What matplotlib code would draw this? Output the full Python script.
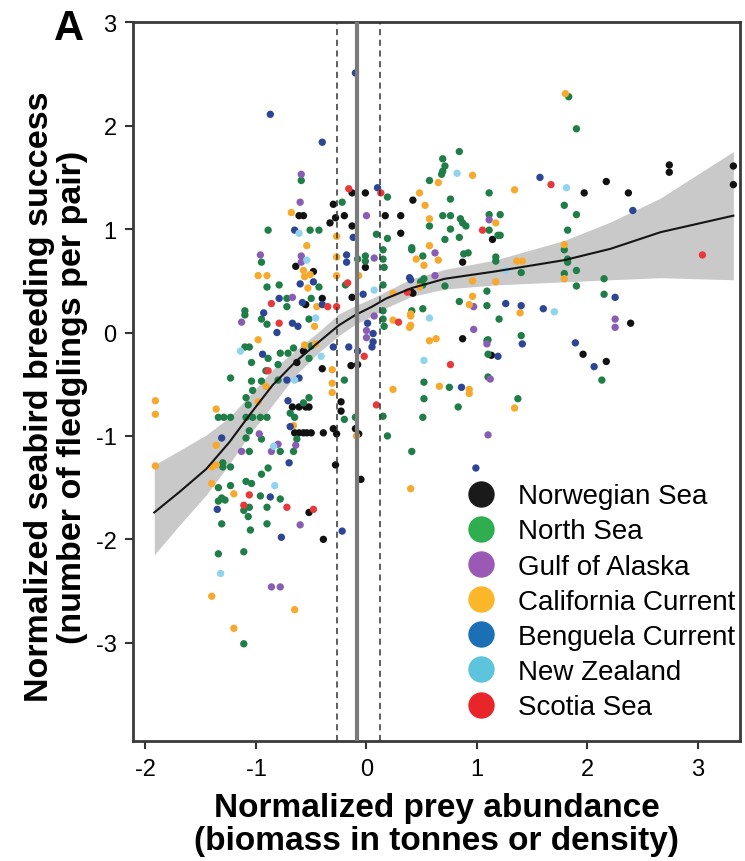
import matplotlib.pyplot as plt
from matplotlib.lines import Line2D

plt.rcParams['font.family'] = ['Liberation Sans Narrow', 'Liberation Sans', 'DejaVu Sans']
plt.rcParams['axes.unicode_minus'] = False

# --- data: (x, y) pairs per region ---
norwegian_sea = [(-0.13, 1.35), (-0.01, 1.35), (0.42, 1.28), (-0.30, 1.24), (-0.61, 1.13), (-0.57, 1.13),
                 (-0.28, 1.11), (-0.33, 1.06), (-0.20, 1.13), (0.17, 1.13), (0.31, 1.13), (-0.13, 1.03),
                 (0.31, 0.96), (-0.64, 0.64), (-0.48, 0.59), (-0.01, 0.63), (0.42, 0.38), (-0.13, 0.34),
                 (-0.40, 0.33), (-0.55, 0.27), (1.97, 1.35), (2.17, 1.46), (2.37, 1.35), (2.74, 1.62),
                 (2.74, 1.55), (3.32, 1.61), (3.32, 1.43), (1.14, 0.90), (0.87, 0.68), (0.41, 0.39),
                 (2.39, 0.09), (0.87, -0.06), (-0.57, -0.18), (-0.63, -0.29), (-0.40, -0.35), (-0.14, -0.32),
                 (-0.08, -0.31), (-0.23, -0.67), (-0.23, -0.76), (-0.30, -0.93), (-0.27, -0.98), (-0.10, -0.93),
                 (-0.07, -0.98), (-0.28, -1.28), (-0.05, -1.42), (-0.65, -0.97), (-0.61, -0.97), (-0.57, -0.97),
                 (-0.54, -0.97), (-0.50, -0.97), (-0.39, -0.97), (-0.67, -0.72), (-0.61, -0.72), (-0.55, -0.72),
                 (-0.52, -0.72), (-0.52, -1.74), (-0.39, -2.00), (1.13, -0.22), (1.96, -0.21), (2.17, -0.28)]

north_sea = [(-0.59, 1.47), (0.19, 1.31), (-0.22, 1.26), (-0.89, 0.99), (-0.51, 0.99), (-0.43, 0.99), (0.09, 0.95),
             (0.19, 0.91), (0.41, 0.80), (0.15, 0.80), (-0.95, 0.68), (-0.08, 0.71), (-0.01, 0.74), (-0.01, 0.69),
             (0.15, 0.71), (0.16, 0.63), (-0.90, 0.44), (-0.79, 0.46), (-0.43, 0.44), (-0.19, 0.46), (0.15, 0.46),
             (0.51, 0.46), (-0.72, 0.33), (-0.72, 0.25), (-0.50, 0.33), (-1.10, 0.21), (-1.10, 0.17), (-0.95, 0.13),
             (-0.90, 0.08), (-0.52, 0.13), (-1.10, -0.14), (-1.06, -0.14), (0.15, 0.21), (0.15, 0.13), (0.16, 0.06),
             (1.83, 2.28), (1.90, 1.97), (0.84, 1.75), (0.69, 1.68), (0.71, 1.61), (0.69, 1.56), (0.68, 1.53),
             (0.57, 1.47), (1.11, 1.35), (0.76, 1.29), (0.69, 1.13), (0.76, 1.13), (0.85, 1.10), (0.87, 1.06),
             (0.90, 1.03), (0.57, 1.03), (1.11, 1.14), (1.21, 1.14), (0.76, 1.00), (0.84, 0.92), (1.11, 0.99),
             (1.19, 0.94), (1.21, 0.94), (1.79, 1.23), (1.90, 1.14), (1.82, 0.99), (1.79, 0.80), (1.82, 0.71),
             (1.82, 0.68), (1.79, 0.57), (1.90, 0.60), (1.90, 0.45), (0.71, 0.90), (0.41, 0.82), (0.51, 0.74),
             (0.88, 0.76), (0.92, 0.77), (1.17, 0.73), (1.17, 0.69), (0.49, 0.49), (0.52, 0.52), (1.40, 0.58),
             (0.71, 0.45), (1.09, 0.40), (0.84, 0.30), (1.09, 0.26), (2.15, 0.52), (2.15, 0.37), (0.41, 0.21),
             (0.51, 0.23), (1.20, 0.13), (1.40, -0.03), (1.09, -0.08), (-0.89, -0.25), (-0.78, -0.20),
             (-0.71, -0.20), (-0.66, -0.15), (-0.50, -0.13), (-0.52, -0.25), (0.52, -0.48), (0.52, -0.64),
             (0.51, -0.82), (0.75, -0.53), (0.83, -0.72), (0.41, -1.15), (0.15, -0.81), (0.19, -1.00),
             (-0.20, -0.46), (-0.20, -0.84), (-0.10, -0.82), (-0.69, -0.78), (-0.65, -0.82), (-0.63, -1.03),
             (-0.66, -1.15), (-0.57, -0.68), (-0.52, -0.63), (-0.78, -1.15), (-0.89, -1.31), (-0.95, -1.37),
             (-0.95, -1.03), (-1.34, -0.82), (-1.29, -0.82), (-1.23, -0.82), (-1.09, -0.82), (-1.03, -0.82),
             (-0.96, -0.82), (-0.90, -0.82), (-1.09, -0.63), (-1.07, -0.70), (-1.03, -0.56), (-1.23, -0.44),
             (-1.04, -0.29), (-1.04, -0.47), (-0.95, -0.47), (-0.91, -0.37), (-0.80, -0.31), (-0.80, -0.46),
             (-1.06, -0.95), (-1.09, -1.02), (-1.06, -1.15), (-1.30, -1.26), (-1.30, -1.30), (-1.23, -1.30),
             (-1.34, -1.50), (-1.23, -1.48), (-1.09, -1.44), (-1.04, -1.46), (-0.96, -1.58), (-0.78, -1.61),
             (-1.34, -1.63), (-1.31, -1.60), (-1.28, -1.62), (-1.11, -1.72), (-1.06, -1.69), (-1.07, -1.78),
             (-0.90, -1.69), (-1.31, -1.85), (-1.05, -1.91), (-0.90, -1.85), (-1.34, -2.14), (-1.11, -2.12),
             (-1.11, -3.01), (1.10, -0.07), (1.10, -0.21), (2.13, -0.46), (1.10, -0.43), (1.37, -0.64)]

gulf_of_alaska = [(-0.59, 1.53), (-0.60, 1.26), (0.00, 1.13), (-0.96, 0.75), (-0.59, 0.74), (-0.59, 0.68),
                  (0.07, 0.72), (-0.67, 0.34), (-1.13, 0.10), (0.00, 0.02), (0.07, 0.16), (1.11, 1.09),
                  (0.62, 0.77), (0.62, 0.55), (0.97, 0.25), (2.25, 0.13), (2.25, 0.05), (0.97, 0.03),
                  (1.09, -0.11), (0.00, -0.05), (-0.97, -0.98), (-0.80, -1.08), (-0.86, -1.15), (-0.64, -1.09),
                  (-1.13, -1.15), (-0.60, -1.86), (-0.86, -2.46), (-0.78, -2.46), (1.12, -0.45), (1.10, -0.99)]

california_current = [(0.48, 1.35), (-0.68, 1.16), (-0.27, 0.93), (-0.54, 0.84), (-0.27, 0.73), (-0.57, 0.60),
                      (-0.51, 0.56), (-0.56, 0.54), (-0.98, 0.55), (-0.90, 0.55), (-0.27, 0.55), (-0.53, 0.43),
                      (-0.07, 0.55), (0.24, 0.38), (-0.45, 0.25), (-0.47, 0.06), (-0.98, -0.07), (0.24, 0.12),
                      (0.40, 0.16), (0.39, 0.05), (-0.56, -0.12), (1.80, 2.31), (0.96, 1.52), (0.65, 1.45),
                      (0.53, 1.23), (1.34, 1.38), (0.57, 1.10), (1.17, 1.06), (1.79, 0.85), (1.79, 0.52),
                      (0.57, 0.84), (0.45, 0.71), (0.52, 0.65), (0.65, 0.70), (1.36, 0.69), (1.41, 0.69),
                      (0.48, 0.44), (0.96, 0.50), (1.17, 0.49), (0.96, 0.35), (0.93, 0.27), (1.39, 0.19),
                      (0.40, 0.18), (0.40, 0.07), (0.57, -0.08), (-1.91, -0.66), (-1.91, -0.79), (-1.91, -1.29),
                      (-0.46, -0.11), (0.63, -0.06), (0.24, -0.55), (0.66, -0.52), (0.40, -1.51), (-0.31, -0.36),
                      (-0.31, -0.49), (-0.31, -0.58), (-0.09, -1.00), (-0.66, -0.90), (-1.36, -0.74), (-1.36, -1.09),
                      (-0.91, -0.52), (-0.98, -0.67), (-1.40, -1.30), (-1.36, -1.28), (-1.40, -1.46), (-1.20, -1.56),
                      (-1.40, -2.55), (-0.65, -2.68), (-1.20, -2.86), (0.93, -0.55), (0.93, -0.59), (1.34, -0.73)]

benguela_current = [(-0.10, 2.51), (-0.87, 2.11), (-0.40, 1.84), (0.10, 1.40), (-0.65, 0.99), (-0.12, 0.92),
                    (-0.18, 0.75), (-0.18, 0.68), (-0.60, 0.47), (-0.48, 0.49), (0.40, 0.51), (-0.03, 0.37),
                    (-0.79, 0.33), (-0.58, 0.29), (-0.40, 0.27), (-0.93, 0.19), (-0.67, 0.09), (-0.62, 0.06),
                    (-0.81, 0.00), (0.06, -0.01), (0.01, 0.09), (0.06, -0.09), (-0.16, -0.14), (-0.30, -0.14),
                    (1.57, 1.50), (2.41, 1.18), (0.39, 0.53), (1.26, 0.28), (1.40, 0.26), (1.60, 0.23),
                    (2.25, 0.34), (1.41, -0.11), (1.89, -0.10), (-0.94, -0.21), (-0.08, -0.18), (0.05, -0.14),
                    (0.86, -0.53), (-0.71, -0.66), (-0.69, -0.91), (-0.70, -1.26), (-1.31, -1.02), (-0.72, -0.46),
                    (-0.61, -0.44), (-0.87, -1.59), (-1.35, -1.71), (-0.77, -1.98), (-0.22, -1.92), (1.19, -0.23),
                    (2.06, -0.33), (0.99, -1.31)]

new_zealand = [(-0.61, 0.96), (-0.54, 0.70), (0.07, 0.41), (-0.46, 0.14), (0.82, 1.54), (1.81, 1.40), (1.26, 0.60),
               (1.70, 0.20), (0.57, 0.14), (-1.14, -0.18), (-0.41, -0.23), (0.52, -0.27), (-0.65, -0.46),
               (-0.84, -1.10), (-0.83, -1.48), (-1.32, -2.33)]

scotia_sea = [(-0.16, 1.39), (0.13, 1.35), (-0.17, 0.48), (0.29, 0.10), (-0.86, 0.28), (-0.35, 0.25), (-0.27, 0.25),
              (-0.79, 0.09), (1.67, 1.43), (1.05, 0.99), (0.37, 0.39), (3.04, 0.75), (-0.02, -0.23), (0.76, -0.31),
              (0.09, -0.70), (-0.89, -0.37), (-1.06, -1.57), (-1.11, -1.67), (-0.72, -1.69), (-0.48, -1.71)]

# smoothed fit and its confidence band
fit_x = [-1.92, -1.69, -1.45, -1.24, -1.06, -0.85, -0.64, -0.43, -0.25, -0.10, 0.05, 0.18, 0.41,
         0.71, 1.16, 1.79, 2.21, 2.66, 3.32]
fit_y = [-1.74, -1.54, -1.32, -1.06, -0.80, -0.51, -0.28, -0.09, 0.07, 0.17, 0.25, 0.33, 0.43,
         0.52, 0.59, 0.70, 0.81, 0.97, 1.13]
fit_lo = [-2.15, -1.86, -1.57, -1.27, -0.99, -0.70, -0.41, -0.19, -0.03, 0.08, 0.16, 0.24, 0.35,
          0.42, 0.46, 0.49, 0.51, 0.53, 0.51]
fit_hi = [-1.28, -1.14, -0.99, -0.82, -0.61, -0.36, -0.17, 0.01, 0.18, 0.26, 0.33, 0.40, 0.52,
          0.61, 0.70, 0.89, 1.07, 1.30, 1.75]

threshold = -0.085
threshold_ci = [-0.27, 0.12]

regions = ["Norwegian Sea", "North Sea", "Gulf of Alaska", "California Current",
           "Benguela Current", "New Zealand", "Scotia Sea"]
region_data = [norwegian_sea, north_sea, gulf_of_alaska, california_current,
               benguela_current, new_zealand, scotia_sea]
point_colors = ["#111111", "#1f7d47", "#8a5db5", "#f7a92e", "#2c4595", "#8fd3ee", "#e8393a"]
legend_colors = ["#1a1a1a", "#2eae4e", "#9b59b6", "#fbb62a", "#1a6fb5", "#5cc4dc", "#e8262a"]

fig = plt.figure(figsize=(7.45, 8.62), dpi=100)
ax = fig.add_axes([0.1789, 0.1392, 0.8144, 0.8338])

ax.fill_between(fit_x, fit_lo, fit_hi, color="#c9c9c9", lw=0, zorder=1)

for data, col in zip(region_data, point_colors):
    xs = [p[0] for p in data]
    ys = [p[1] for p in data]
    ax.scatter(xs, ys, s=28, color=col, edgecolors="none", zorder=2)

ax.plot(fit_x, fit_y, color="#151515", lw=1.5, zorder=3)

ax.axvline(threshold, color="#7a7a7a", lw=3, zorder=4)
for v in threshold_ci:
    ax.axvline(v, color="#333333", lw=1.1, ls=(0, (4, 3)), zorder=4)

ax.set_xlim(-2.11, 3.38)
ax.set_ylim(-3.95, 3.0)
ax.set_xticks([-2, -1, 0, 1, 2, 3])
ax.set_yticks([-3, -2, -1, 0, 1, 2, 3])
ax.tick_params(length=6, width=1.5, labelsize=17, color="#333333", pad=6)
for s in ax.spines.values():
    s.set_linewidth(2)
    s.set_color("#3a3a3a")

ax.set_xlabel("Normalized prey abundance\n(biomass in tonnes or density)",
              fontsize=24, fontweight="bold", linespacing=1.08, labelpad=9)
ax.set_ylabel("Normalized seabird breeding success\n(number of fledglings per pair)",
              fontsize=24.5, fontweight="bold", linespacing=1.1)
ax.yaxis.set_label_coords(-0.074, 0.48)

fig.text(0.093, 0.966, "A", fontsize=30, fontweight="bold", ha="center", va="center")

handles = [Line2D([], [], marker="o", ls="none", color=c, markersize=18) for c in legend_colors]
ax.legend(handles, regions, loc="upper left", bbox_to_anchor=(0.527, 0.374), frameon=False,
          fontsize=20, handletextpad=0.74, labelspacing=0.33, borderaxespad=0, handlelength=1.2)

fig.savefig("out.png", dpi=100)
